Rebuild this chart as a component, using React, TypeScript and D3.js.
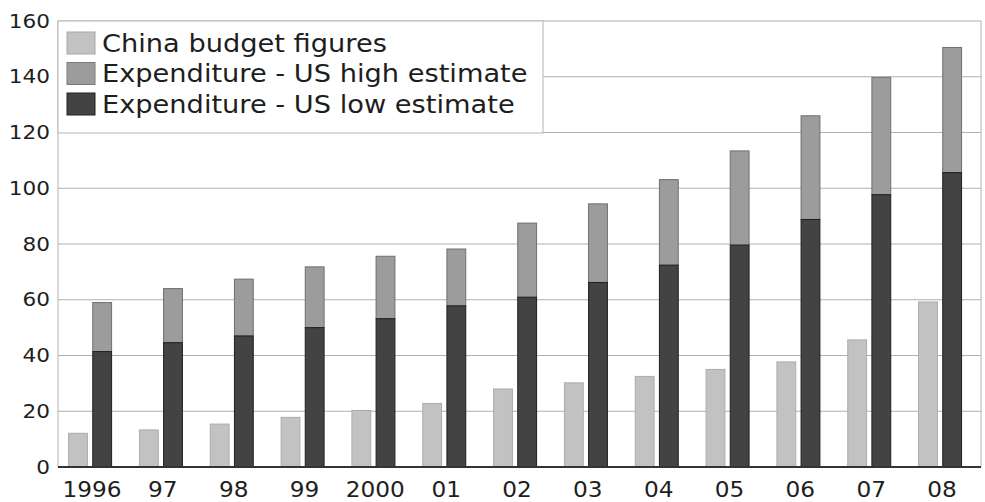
import React from "react";
import * as d3 from "d3";

const years = ["1996", "97", "98", "99", "2000", "01", "02", "03", "04", "05", "06", "07", "08"];
const chinaBudget = [12.1, 13.3, 15.4, 17.8, 20.3, 22.8, 28.0, 30.2, 32.5, 35.0, 37.7, 45.6, 59.2];
const usLow = [41.4, 44.6, 47.0, 50.0, 53.2, 57.8, 60.9, 66.2, 72.4, 79.6, 88.8, 97.7, 105.6];
const usHigh = [59.0, 64.0, 67.4, 71.8, 75.6, 78.2, 87.5, 94.4, 103.1, 113.4, 126.0, 139.8, 150.5];
const yTicks = [0, 20, 40, 60, 80, 100, 120, 140, 160];
const legendLabels = ["China budget figures", "Expenditure - US high estimate", "Expenditure - US low estimate"];

const W = 985;
const H = 502;
const FONT = "'DejaVu Sans', Verdana, sans-serif";
const C_LIGHT = "#c2c2c2";
const C_MID = "#9c9c9c";
const C_DARK = "#434343";

export default function App() {
  const left = 58;
  const right = 981;
  const top = 21;
  const bottom = 467;

  const y = d3.scaleLinear().domain([0, 160]).range([bottom, top]);
  const x = d3.scaleBand<string>().domain(years).range([54.6, 975.4]).padding(0);
  const bw = x.bandwidth();
  const sub = d3.scaleBand<string>().domain(["china", "us"]).range([14, 57]).paddingInner(0.22);

  const legendColors = [C_LIGHT, C_MID, C_DARK];
  const legendStrokes = ["#a8a8a8", "#7a7a7a", "#222"];
  const stretch = 1.08;

  return (
    <svg
      width={W}
      height={H}
      style={{ position: "absolute", left: 0, top: 0, background: "#fff" }}
      fontFamily={FONT}
    >
      <rect x={0} y={0} width={W} height={H} fill="#fff" />
      {/* gridlines */}
      {yTicks.map((t) => (
        <line
          key={"g" + t}
          x1={left}
          x2={right}
          y1={y(t)}
          y2={y(t)}
          stroke={t === 0 ? "#333" : "#b0b0b0"}
          strokeWidth={t === 0 ? 2 : 1}
        />
      ))}
      <line x1={left} x2={left} y1={top} y2={bottom} stroke="#b5b5b5" strokeWidth={1} />
      <line x1={right} x2={right} y1={top} y2={bottom} stroke="#b5b5b5" strokeWidth={1} />

      {/* bars */}
      {years.map((yr, i) => {
        const x0 = x(yr) ?? 0;
        const xc = x0 + (sub("china") ?? 0);
        const xu = x0 + (sub("us") ?? 0);
        const w = sub.bandwidth();
        return (
          <g key={yr}>
            <rect
              x={xc}
              y={y(chinaBudget[i])}
              width={w}
              height={y(0) - y(chinaBudget[i])}
              fill={C_LIGHT}
              stroke="#acacac"
              strokeWidth={1}
            />
            <rect
              x={xu}
              y={y(usHigh[i])}
              width={w}
              height={y(usLow[i]) - y(usHigh[i])}
              fill={C_MID}
              stroke="#6f6f6f"
              strokeWidth={1}
            />
            <rect
              x={xu}
              y={y(usLow[i])}
              width={w}
              height={y(0) - y(usLow[i])}
              fill={C_DARK}
              stroke="#1f1f1f"
              strokeWidth={1}
            />
          </g>
        );
      })}
      <line x1={left} x2={right} y1={bottom} y2={bottom} stroke="#333" strokeWidth={2} />

      {/* y tick labels */}
      {yTicks.map((t) => (
        <g key={"t" + t} transform={`translate(50,${y(t)}) scale(${stretch},1)`}>
          <text x={0} y={0} textAnchor="end" dominantBaseline="central" fontSize={20} fill="#1e1e1e">
            {t}
          </text>
        </g>
      ))}

      {/* x labels */}
      {years.map((yr) => (
        <g key={"x" + yr} transform={`translate(${(x(yr) ?? 0) + bw / 2 + 2},497) scale(${stretch},1)`}>
          <text x={0} y={0} textAnchor="middle" fontSize={21.5} fill="#1e1e1e">
            {yr}
          </text>
        </g>
      ))}

      {/* legend */}
      <rect x={left} y={top} width={543 - left} height={133 - top} fill="#fff" stroke="#b5b5b5" strokeWidth={1} />
      {legendLabels.map((lab, i) => {
        const cy = 43 + i * 30.5;
        return (
          <g key={lab}>
            <rect x={67} y={cy - 11} width={28} height={22} fill={legendColors[i]} stroke={legendStrokes[i]} strokeWidth={1} />
            <g transform={`translate(102,${cy}) scale(1.09,1)`}>
              <text x={0} y={0} dominantBaseline="central" fontSize={25} fill="#1e1e1e">
                {lab}
              </text>
            </g>
          </g>
        );
      })}
    </svg>
  );
}
